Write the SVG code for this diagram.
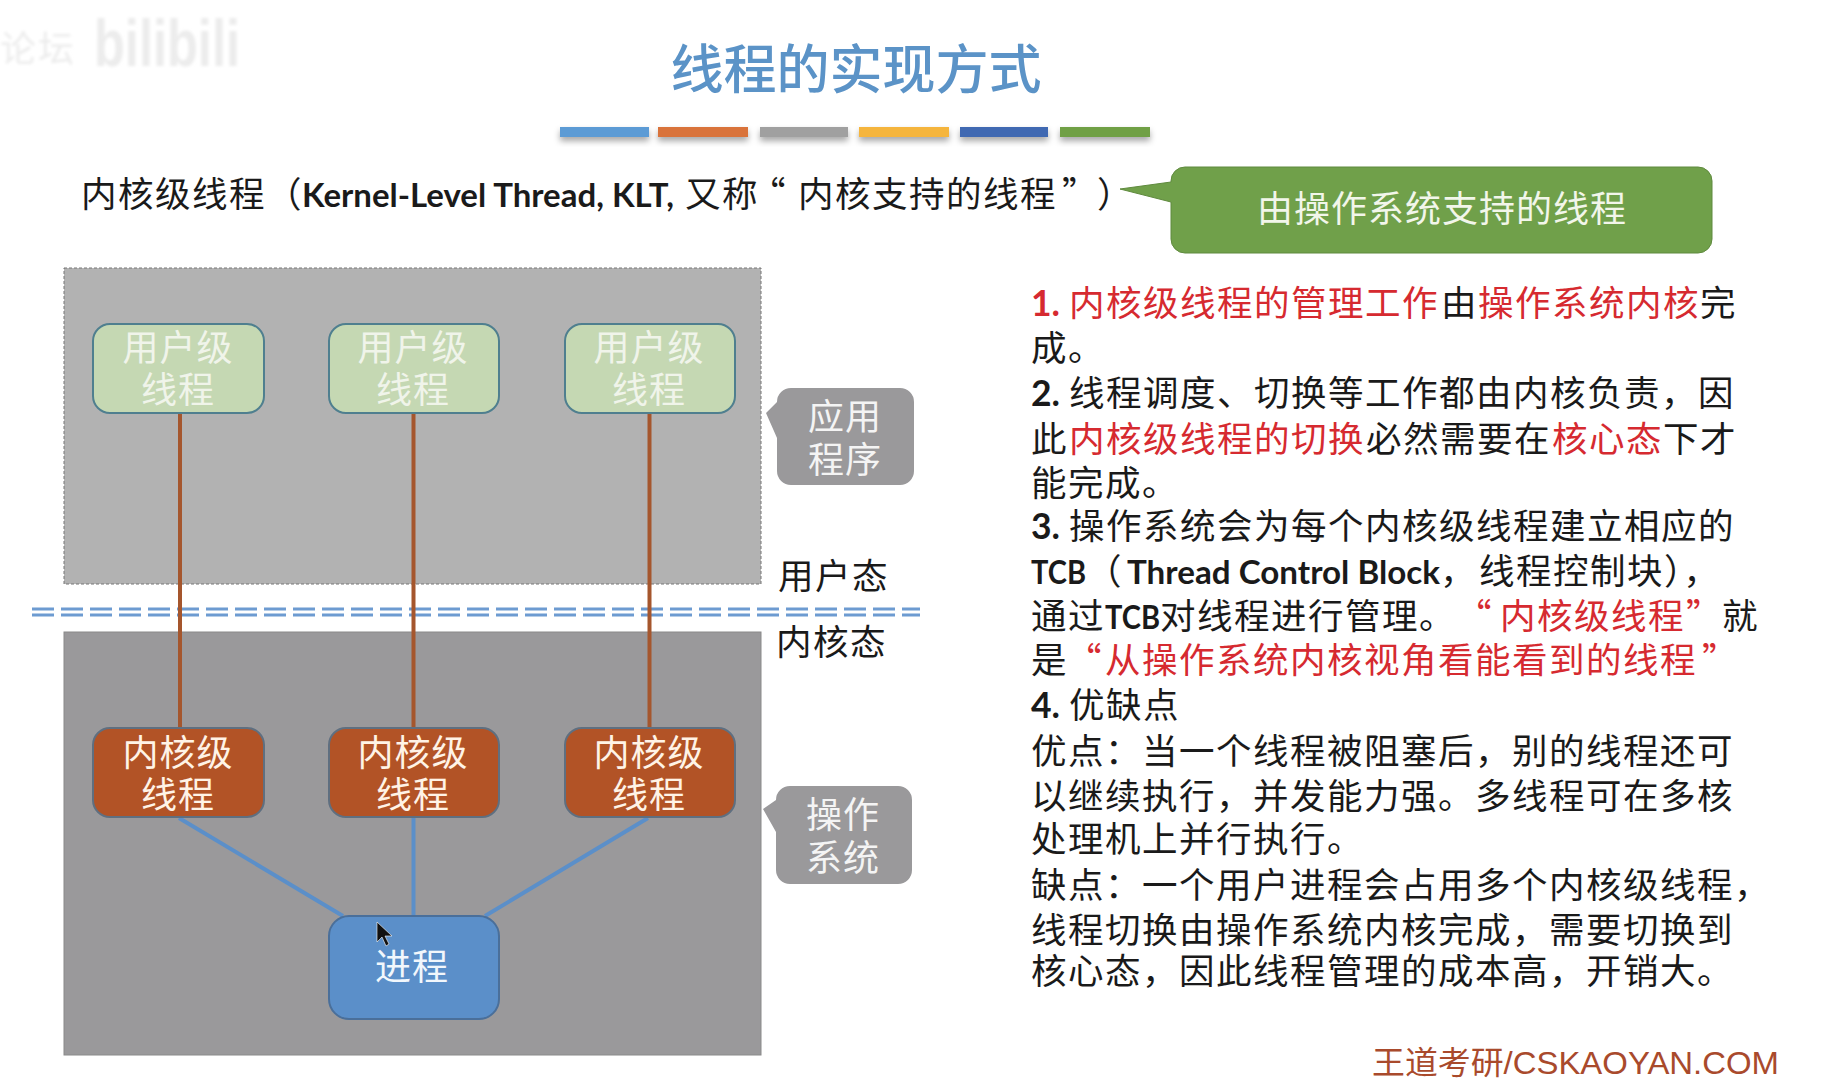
<svg xmlns="http://www.w3.org/2000/svg" width="1821" height="1080" viewBox="0 0 1821 1080">
<style>
text{font-family:"Noto Sans CJK SC","Noto Sans",sans-serif}
.t{font-size:35.5px;letter-spacing:1.5px;fill:#1a1a1a}
.r{fill:#d62a30}
.l{font-family:Lato,"Noto Sans CJK SC",sans-serif;letter-spacing:0;font-weight:700}
.n{font-size:36px;letter-spacing:1px;text-anchor:middle}
.u{fill:#c5d8b3;stroke:#4f7f8f;stroke-width:2}
.k{fill:#b25326;stroke:#5f6f80;stroke-width:2}
.b{stroke:none}
</style>
<defs>
<filter id="sh" x="-10%" y="-50%" width="120%" height="250%"><feDropShadow dx="0" dy="4" stdDeviation="3" flood-color="#000" flood-opacity=".35"/></filter>
<filter id="soft"><feGaussianBlur stdDeviation="1.5"/></filter>
</defs>
<rect width="1821" height="1080" fill="#fff"/>
<g id="watermark" fill="#ececec" filter="url(#soft)"><text x="0" y="62" font-size="36" letter-spacing="2">论坛</text><text x="94" y="66" font-size="66" font-weight="700" style="font-family:'Liberation Sans',sans-serif" textLength="146" lengthAdjust="spacingAndGlyphs">bilibili</text></g>
<text id="title" x="856" y="89" font-size="53" letter-spacing="0" font-weight="500" text-anchor="middle" fill="#5b93c7">线程的实现方式</text>
<g id="bars" filter="url(#sh)">
<rect class="b" x="560" y="127" width="89" height="10" fill="#5b9bd5"/>
<rect class="b" x="658" y="127" width="90" height="10" fill="#d9733a"/>
<rect class="b" x="760" y="127" width="88" height="10" fill="#a0a0a0"/>
<rect class="b" x="859" y="127" width="90" height="10" fill="#f5b53c"/>
<rect class="b" x="960" y="127" width="88" height="10" fill="#4169b2"/>
<rect class="b" x="1060" y="127" width="90" height="10" fill="#70a045"/>
</g>
<text id="heading" class="t" y="207"><tspan x="81">内核级线程（</tspan><tspan class="l" x="302" font-size="33" textLength="372" lengthAdjust="spacingAndGlyphs">Kernel-Level Thread, KLT,</tspan><tspan x="685">又称</tspan><tspan x="750">“</tspan><tspan x="798">内核支持的线程</tspan><tspan x="1062">”</tspan><tspan x="1097">）</tspan></text>
<g id="bubble"><path d="M1185 167H1698a14 14 0 0 1 14 14V239a14 14 0 0 1-14 14H1185a14 14 0 0 1-14-14V202L1120 189L1171 182V181a14 14 0 0 1 14-14Z" fill="#70a04a" stroke="#5f8a3e" stroke-width="1"/><text x="1442" y="222" font-size="36" letter-spacing="1" text-anchor="middle" fill="#f2f6ea">由操作系统支持的线程</text></g>
<g id="user-space"><rect x="64" y="268" width="697" height="316" fill="#b2b2b2" stroke="#777" stroke-width="1" stroke-dasharray="3 2"/></g>
<g id="kernel-space"><rect x="64" y="632" width="697" height="423" fill="#9a999b" stroke="#8a8a8a" stroke-width="1"/></g>
<g id="divider" stroke="#6d9bd1" stroke-width="3" stroke-dasharray="22 7"><path d="M32 609H920"/><path d="M32 615H920"/></g>
<g id="connectors" fill="none" stroke-width="4">
<path stroke="#a5562d" d="M180 413V728M413.500 413V728M649.500 413V728"/>
<path stroke="#5b8fc9" d="M179 818L343 916M413.500 818V916M648 818L485 916"/>
</g>
<g id="ult1"><rect class="u" x="93" y="324" width="171" height="89" rx="17"/><text class="n" fill="#f0f4ea"><tspan x="178" y="361">用户级</tspan><tspan x="178" y="403">线程</tspan></text></g>
<g id="ult2"><rect class="u" x="329" y="324" width="170" height="89" rx="17"/><text class="n" fill="#f0f4ea"><tspan x="413" y="361">用户级</tspan><tspan x="413" y="403">线程</tspan></text></g>
<g id="ult3"><rect class="u" x="565" y="324" width="170" height="89" rx="17"/><text class="n" fill="#f0f4ea"><tspan x="649" y="361">用户级</tspan><tspan x="649" y="403">线程</tspan></text></g>
<g id="klt1"><rect class="k" x="93" y="728" width="171" height="89" rx="17"/><text class="n" fill="#fff3e6"><tspan x="178" y="766">内核级</tspan><tspan x="178" y="808">线程</tspan></text></g>
<g id="klt2"><rect class="k" x="329" y="728" width="170" height="89" rx="17"/><text class="n" fill="#fff3e6"><tspan x="413" y="766">内核级</tspan><tspan x="413" y="808">线程</tspan></text></g>
<g id="klt3"><rect class="k" x="565" y="728" width="170" height="89" rx="17"/><text class="n" fill="#fff3e6"><tspan x="649" y="766">内核级</tspan><tspan x="649" y="808">线程</tspan></text></g>
<g id="process"><rect x="329" y="916" width="170" height="103" rx="20" fill="#5b8fc9" stroke="#4a6f9a" stroke-width="2"/><text class="n" x="412" y="980" fill="#f2f7fc">进程</text><path d="M377 922V942L382 937L386 946L389 944L385 936L392 936Z" fill="#111" stroke="#fff" stroke-width=".6"/></g>
<g id="app-callout"><path d="M791 388H900a14 14 0 0 1 14 14V471a14 14 0 0 1-14 14H791a14 14 0 0 1-14-14V438L766 413L777 402a14 14 0 0 1 14-14Z" fill="#9a999b"/><text class="n" fill="#f4f4f4"><tspan x="845" y="430">应用</tspan><tspan x="845" y="473">程序</tspan></text></g>
<g id="os-callout"><path d="M790 786H898a14 14 0 0 1 14 14V870a14 14 0 0 1-14 14H790a14 14 0 0 1-14-14V832L763 809L776 800a14 14 0 0 1 14-14Z" fill="#9a999b"/><text class="n" fill="#f4f4f4"><tspan x="843" y="828">操作</tspan><tspan x="843" y="871">系统</tspan></text></g>
<text class="t" x="778" y="589">用户态</text>
<text class="t" x="776" y="655">内核态</text>
<g id="notes">
<text class="t" y="316"><tspan class="l r" x="1031">1.</tspan><tspan class="r" x="1069">内核级线程的管理工作</tspan><tspan x="1441">由</tspan><tspan class="r" x="1478">操作系统内核</tspan><tspan x="1700">完</tspan></text>
<text class="t" x="1031" y="361">成。</text>
<text class="t" y="406"><tspan class="l" x="1031">2.</tspan><tspan x="1069">线程调度、切换等工作都由内核负责，因</tspan></text>
<text class="t" y="452"><tspan x="1031">此</tspan><tspan class="r" x="1069">内核级线程的切换</tspan><tspan x="1366">必然需要在</tspan><tspan class="r" x="1552">核心态</tspan><tspan x="1663">下才</tspan></text>
<text class="t" x="1031" y="496">能完成。</text>
<text class="t" y="539"><tspan class="l" x="1031">3.</tspan><tspan x="1069">操作系统会为每个内核级线程建立相应的</tspan></text>
<text class="t" y="584"><tspan class="l" x="1031" font-size="33" textLength="55" lengthAdjust="spacingAndGlyphs">TCB</tspan><tspan x="1086">（</tspan><tspan class="l" x="1127" font-size="33" textLength="313" lengthAdjust="spacingAndGlyphs">Thread Control Block</tspan><tspan x="1440">，</tspan><tspan x="1479">线程控制块），</tspan></text>
<text class="t" y="629"><tspan x="1031">通过</tspan><tspan class="l" x="1105" font-size="33" textLength="55" lengthAdjust="spacingAndGlyphs">TCB</tspan><tspan x="1160">对线程进行管理。</tspan><tspan class="r" x="1456">“</tspan><tspan class="r" x="1500">内核级线程</tspan><tspan class="r" x="1686">”</tspan><tspan x="1722">就</tspan></text>
<text class="t" y="673"><tspan x="1031">是</tspan><tspan class="r" x="1066">“</tspan><tspan class="r" x="1105">从操作系统内核视角看能看到的线程</tspan><tspan class="r" x="1702">”</tspan></text>
<text class="t" y="718"><tspan class="l" x="1031">4.</tspan><tspan x="1069">优缺点</tspan></text>
<text class="t" x="1031" y="764">优点：当一个线程被阻塞后，别的线程还可</text>
<text class="t" x="1031" y="809">以继续执行，并发能力强。多线程可在多核</text>
<text class="t" x="1031" y="852">处理机上并行执行。</text>
<text class="t" x="1031" y="898">缺点：一个用户进程会占用多个内核级线程，</text>
<text class="t" x="1031" y="943">线程切换由操作系统内核完成，需要切换到</text>
<text class="t" x="1031" y="984">核心态，因此线程管理的成本高，开销大。</text>
</g>
<text id="footer" x="1372" y="1074" font-size="32" fill="#a94a2c" style="font-family:'Liberation Sans','Noto Sans CJK SC',sans-serif" textLength="407" lengthAdjust="spacingAndGlyphs">王道考研/CSKAOYAN.COM</text>
</svg>
